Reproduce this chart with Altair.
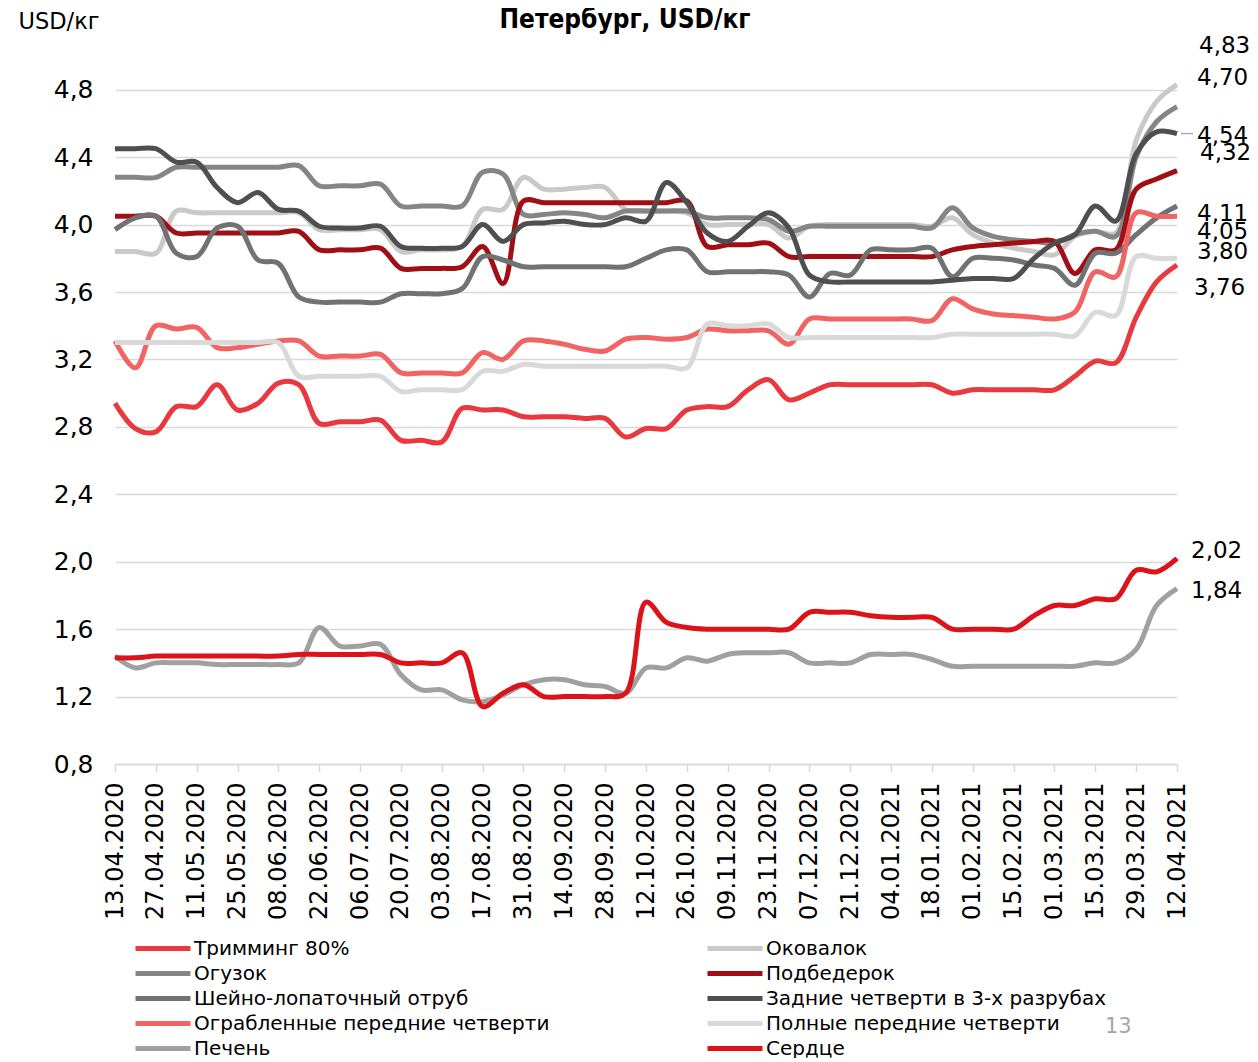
import altair as alt
import pandas as pd

# weekly dates 13.04.2020 .. 12.04.2021
dates = [d.strftime("%d.%m.%Y") for d in pd.date_range("2020-04-13", periods=53, freq="7D")]
tick_labels = dates[::2]
y_ticks = [0.8, 1.0, 1.2, 1.4, 1.6, 1.8, 2.0, 2.2, 2.4, 2.6, 2.8, 3.0, 3.2, 3.4, 3.6, 3.8, 4.0, 4.2, 4.4, 4.6, 4.8, 5.0]

series_names = [
    "Тримминг 80%", "Оковалок", "Огузок", "Подбедерок",
    "Шейно-лопаточный отруб", "Задние четверти в 3-х разрубах",
    "Ограбленные передние четверти", "Полные передние четверти",
    "Печень", "Сердце",
]
colors = ["#E8393E", "#C9C9C9", "#858585", "#A00F14", "#707274",
          "#4F4F4F", "#F06464", "#D9D9D9", "#A0A0A0", "#DC1419"]

trimming = [2.94, 2.79, 2.77, 2.92, 2.92, 3.05, 2.90, 2.94, 3.06, 3.05,
            2.82, 2.83, 2.83, 2.84, 2.72, 2.72, 2.71, 2.91, 2.90, 2.90,
            2.86, 2.86, 2.86, 2.85, 2.85, 2.74, 2.79, 2.79, 2.90, 2.92,
            2.92, 3.02, 3.08, 2.96, 3.00, 3.05, 3.05, 3.05, 3.05, 3.05,
            3.05, 3.00, 3.02, 3.02, 3.02, 3.02, 3.02, 3.10, 3.19, 3.18,
            3.45, 3.66, 3.76]
okovalok = [3.84, 3.84, 3.83, 4.08, 4.07, 4.07, 4.07, 4.07, 4.07, 4.07,
            3.97, 3.97, 3.97, 3.97, 3.84, 3.85, 3.85, 3.87, 4.09, 4.09,
            4.28, 4.21, 4.21, 4.22, 4.22, 4.09, 4.08, 4.08, 4.07, 4.00,
            4.00, 4.00, 4.00, 3.92, 3.99, 4.00, 4.00, 4.00, 4.00, 4.00,
            3.99, 4.04, 3.94, 3.89, 3.86, 3.84, 3.82, 3.93, 3.96, 3.95,
            4.50, 4.73, 4.83]
oguzok = [4.28, 4.28, 4.28, 4.34, 4.34, 4.34, 4.34, 4.34, 4.34, 4.35,
          4.23, 4.23, 4.23, 4.24, 4.11, 4.11, 4.11, 4.11, 4.31, 4.30,
          4.06, 4.06, 4.07, 4.06, 4.04, 4.08, 4.08, 4.08, 4.08, 4.04,
          4.04, 4.04, 4.03, 3.96, 3.99, 3.99, 3.99, 3.99, 3.99, 3.99,
          3.98, 4.10, 3.98, 3.93, 3.91, 3.90, 3.89, 3.94, 3.96, 3.93,
          4.40, 4.61, 4.70]
podbederok = [4.05, 4.05, 4.05, 3.95, 3.95, 3.95, 3.95, 3.95, 3.95, 3.96,
              3.85, 3.85, 3.85, 3.86, 3.74, 3.74, 3.74, 3.75, 3.87, 3.65,
              4.14, 4.13, 4.13, 4.13, 4.13, 4.13, 4.13, 4.13, 4.14, 3.87,
              3.88, 3.88, 3.89, 3.81, 3.81, 3.81, 3.81, 3.81, 3.81, 3.81,
              3.81, 3.85, 3.87, 3.88, 3.89, 3.90, 3.90, 3.71, 3.85, 3.85,
              4.21, 4.27, 4.32]
sheyno = [3.97, 4.04, 4.05, 3.83, 3.81, 3.98, 3.99, 3.79, 3.77, 3.57,
          3.54, 3.54, 3.54, 3.54, 3.59, 3.59, 3.59, 3.62, 3.81, 3.79,
          3.75, 3.75, 3.75, 3.75, 3.75, 3.75, 3.80, 3.85, 3.85, 3.72,
          3.72, 3.72, 3.72, 3.70, 3.57, 3.71, 3.70, 3.85, 3.85, 3.85,
          3.86, 3.69, 3.80, 3.80, 3.79, 3.76, 3.74, 3.64, 3.83, 3.83,
          3.94, 4.04, 4.11]
zadnie = [4.45, 4.45, 4.45, 4.37, 4.37, 4.22, 4.13, 4.19, 4.09, 4.08,
          3.99, 3.98, 3.98, 3.99, 3.87, 3.86, 3.86, 3.87, 4.00, 3.90,
          4.00, 4.01, 4.02, 4.00, 4.00, 4.04, 4.02, 4.25, 4.13, 3.95,
          3.90, 3.99, 4.07, 3.98, 3.70, 3.66, 3.66, 3.66, 3.66, 3.66,
          3.66, 3.67, 3.68, 3.68, 3.68, 3.80, 3.89, 3.94, 4.11, 4.02,
          4.42, 4.55, 4.54]
ograblennye = [3.31, 3.15, 3.40, 3.38, 3.39, 3.27, 3.27, 3.29, 3.31, 3.31,
               3.22, 3.22, 3.22, 3.23, 3.12, 3.12, 3.12, 3.12, 3.24, 3.20,
               3.31, 3.31, 3.29, 3.26, 3.25, 3.32, 3.33, 3.32, 3.33, 3.38,
               3.37, 3.37, 3.37, 3.29, 3.44, 3.44, 3.44, 3.44, 3.44, 3.44,
               3.43, 3.56, 3.50, 3.47, 3.46, 3.45, 3.44, 3.48, 3.72, 3.69,
               4.07, 4.05, 4.05]
polnye = [3.30, 3.30, 3.30, 3.30, 3.30, 3.30, 3.30, 3.30, 3.30, 3.10,
          3.10, 3.10, 3.10, 3.10, 3.01, 3.02, 3.02, 3.02, 3.13, 3.13,
          3.17, 3.16, 3.16, 3.16, 3.16, 3.16, 3.16, 3.16, 3.15, 3.41,
          3.40, 3.40, 3.41, 3.33, 3.33, 3.33, 3.33, 3.33, 3.33, 3.33,
          3.33, 3.35, 3.35, 3.35, 3.35, 3.35, 3.35, 3.34, 3.48, 3.46,
          3.81, 3.80, 3.80]
pechen = [1.44, 1.37, 1.40, 1.40, 1.40, 1.39, 1.39, 1.39, 1.39, 1.40,
          1.61, 1.50, 1.50, 1.51, 1.33, 1.24, 1.24, 1.18, 1.17, 1.21,
          1.27, 1.30, 1.30, 1.27, 1.26, 1.22, 1.37, 1.37, 1.43, 1.41,
          1.45, 1.46, 1.46, 1.46, 1.40, 1.40, 1.40, 1.45, 1.45, 1.45,
          1.42, 1.38, 1.38, 1.38, 1.38, 1.38, 1.38, 1.38, 1.40, 1.40,
          1.48, 1.74, 1.84]
serdce = [1.43, 1.43, 1.44, 1.44, 1.44, 1.44, 1.44, 1.44, 1.44, 1.45,
          1.45, 1.45, 1.45, 1.45, 1.40, 1.40, 1.40, 1.46, 1.14, 1.22,
          1.27, 1.20, 1.20, 1.20, 1.20, 1.22, 1.76, 1.64, 1.61, 1.60,
          1.60, 1.60, 1.60, 1.60, 1.70, 1.70, 1.70, 1.68, 1.67, 1.67,
          1.67, 1.60, 1.60, 1.60, 1.60, 1.68, 1.74, 1.74, 1.78, 1.78,
          1.95, 1.94, 2.02]

series_values = [trimming, okovalok, oguzok, podbederok, sheyno, zadnie,
                 ograblennye, polnye, pechen, serdce]

# legend is filled column by column: left column first, then right column
legend_order = [
    "Тримминг 80%", "Огузок", "Шейно-лопаточный отруб",
    "Ограбленные передние четверти", "Печень",
    "Оковалок", "Подбедерок", "Задние четверти в 3-х разрубах",
    "Полные передние четверти", "Сердце",
]
color_of = dict(zip(series_names, colors))
legend_colors = [color_of[n] for n in legend_order]

rows = []
for name, vals in zip(series_names, series_values):
    for d, v in zip(dates, vals):
        rows.append({"date": d, "value": v, "series": name})
df = pd.DataFrame(rows)

end_rows = [{"date": dates[-1], "value": vals[-1], "series": name,
             "label": f"{vals[-1]:.2f}".replace(".", ",")}
            for name, vals in zip(series_names, series_values)]
end_df = pd.DataFrame(end_rows)

# label nudges (dx, dy) in pixels to avoid overlaps
label_nudge = {
    "Оковалок": (22, -39),
    "Огузок": (20, -29),
    "Задние четверти в 3-х разрубах": (20, 2),
    "Подбедерок": (23, -18),
    "Шейно-лопаточный отруб": (20, 8),
    "Ограбленные передние четверти": (20, 16),
    "Полные передние четверти": (20, -6),
    "Тримминг 80%": (17, 23),
    "Сердце": (14, -7),
    "Печень": (14, 2),
}
leader_series = "Задние четверти в 3-х разрубах"

FONT = "DejaVu Sans"

x_enc = alt.X("date:O", sort=dates, title=None,
              scale=alt.Scale(type="point", padding=0),
              axis=alt.Axis(values=tick_labels, labelAngle=-90, labelFontSize=24,
                            labelFont=FONT, labelColor="#000000", labelPadding=10,
                            domainColor="#D9D9D9", domainWidth=1.5,
                            tickColor="#D9D9D9", tickWidth=1.5, tickSize=8,
                            grid=False, labelOverlap=False))
y_enc = alt.Y("value:Q",
              scale=alt.Scale(domain=[0.8, 5.0], nice=False, zero=False),
              axis=alt.Axis(values=y_ticks, title="USD/кг",
                            labelExpr="replace(format(datum.value, '.1f'), '.', ',')",
                            labelFontSize=25, labelFont=FONT, labelColor="#000000",
                            labelPadding=22, domain=False, ticks=False,
                            labelOverlap=False,
                            gridColor="#D9D9D9", gridWidth=1.6,
                            titleAngle=0, titleAlign="left", titleBaseline="alphabetic",
                            titleX=-97, titleY=-28, titleFontSize=22.5,
                            titleFont=FONT, titleFontWeight="normal",
                            titleColor="#000000"))

lines = alt.Chart(df).mark_line(strokeWidth=5, interpolate="catmull-rom").encode(
    x=x_enc,
    y=y_enc,
    color=alt.Color("series:N",
                    scale=alt.Scale(domain=legend_order, range=legend_colors),
                    legend=alt.Legend(title=None, orient="none", legendX=18, legendY=880,
                                      columns=2, symbolType="stroke", symbolSize=3025,
                                      symbolStrokeWidth=5, labelFontSize=20,
                                      labelFont=FONT, labelColor="#000000",
                                      labelOffset=1, columnPadding=155, rowPadding=0,
                                      clipHeight=25, labelLimit=600)),
)

layers = [lines]

leader = alt.Chart(end_df).transform_filter(alt.datum.series == leader_series).mark_tick(
    orient="horizontal", size=12, thickness=1.5, xOffset=10, color="#8C8C8C"
).encode(x=alt.X("date:O", sort=dates), y="value:Q")
layers.append(leader)

for name in series_names:
    dx, dy = label_nudge[name]
    layers.append(
        alt.Chart(end_df).transform_filter(alt.datum.series == name)
        .mark_text(align="left", baseline="middle", dx=dx, dy=dy,
                   fontSize=23, font=FONT, color="#000000")
        .encode(x=alt.X("date:O", sort=dates), y="value:Q", text="label:N")
    )

page_no = alt.Chart(pd.DataFrame({"t": ["13"]})).mark_text(
    align="left", baseline="middle", fontSize=21, font=FONT, color="#A6A6A6"
).encode(x=alt.value(990), y=alt.value(971), text="t:N")
layers.append(page_no)

chart = alt.layer(*layers).properties(
    width=1062, height=708,
    padding={"left": 107, "top": 48, "right": 73, "bottom": 294},
    autosize=alt.AutoSizeParams(type="none"),
    title=alt.Title("Петербург, USD/кг", fontSize=26, font="DejaVu Sans Condensed",
                    fontWeight="bold", color="#000000", anchor="middle", dx=-21,
                    offset=-23),
).configure_view(stroke=None)

chart.save("out.html", embed_options={"renderer": "svg", "actions": False})
